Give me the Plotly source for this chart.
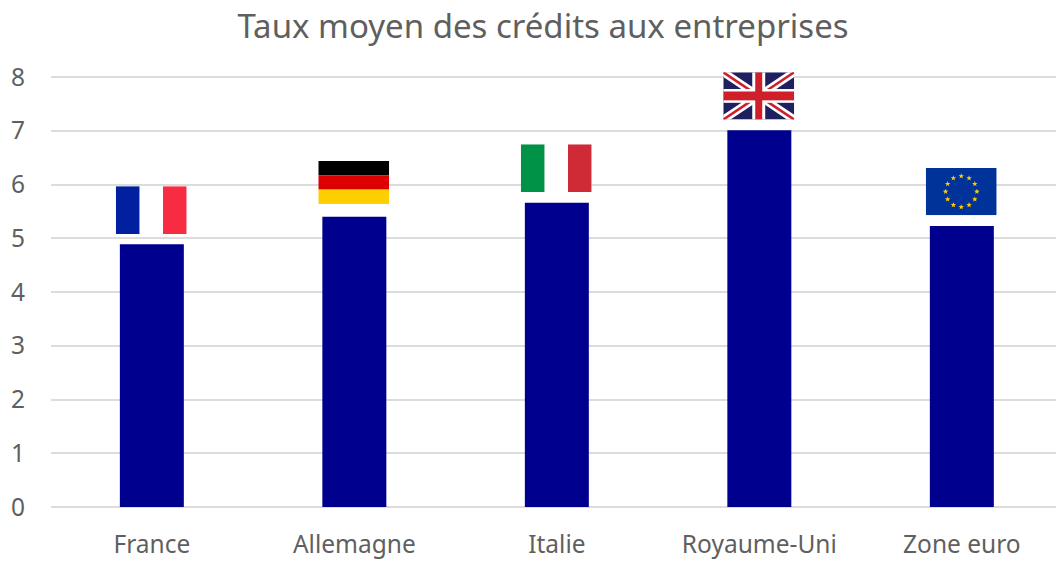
import base64
import math
import plotly.graph_objects as go

TITLE = "Taux moyen des crédits aux entreprises"
categories = ["France", "Allemagne", "Italie", "Royaume-Uni", "Zone euro"]
values = [4.89, 5.40, 5.66, 7.01, 5.23]
y_ticks = [0, 1, 2, 3, 4, 5, 6, 7, 8]

BAR = "#00008f"
GRID = "#dcdcdc"
TEXT = "#5f5f5f"
FONT = "Noto Sans"


def stars():
    out = ""
    for i in range(12):
        a = math.radians(i * 30)
        cx, cy = 35.5 + 15.7 * math.sin(a), 24 - 15.7 * math.cos(a)
        pts = []
        for k in range(10):
            r = 2.9 if k % 2 == 0 else 1.2
            b = math.radians(k * 36)
            pts.append(f"{cx + r * math.sin(b):.2f},{cy - r * math.cos(b):.2f}")
        out += f'<polygon points="{" ".join(pts)}" fill="#ffcc00"/>'
    return out


def svg(body):
    return (
        '<svg xmlns="http://www.w3.org/2000/svg" width="710" height="480" viewBox="0 0 71 48" '
        'preserveAspectRatio="none">' + body + "</svg>"
    )


flag_bodies = {
    "France": '<rect width="71" height="48" fill="#fff"/><rect width="23.7" height="48" fill="#00209f"/>'
              '<rect x="47.3" width="23.7" height="48" fill="#f72c43"/>',
    "Allemagne": '<rect width="71" height="16" fill="#000"/><rect y="16" width="71" height="16" fill="#dd0000"/>'
                 '<rect y="32" width="71" height="16" fill="#ffce00"/>',
    "Italie": '<rect width="71" height="48" fill="#fff"/><rect width="23.7" height="48" fill="#009246"/>'
              '<rect x="47.3" width="23.7" height="48" fill="#ce2b37"/>',
    "Royaume-Uni": '<rect width="71" height="48" fill="#1f2060"/>'
                   '<path d="M0 0L71 48M71 0L0 48" stroke="#fff" stroke-width="8"/>'
                   '<path d="M0 0L71 48M71 0L0 48" stroke="#cf1f2b" stroke-width="2.6"/>'
                   '<rect x="29" width="13" height="48" fill="#fff"/><rect y="17" width="71" height="14" fill="#fff"/>'
                   '<rect x="32" width="7" height="48" fill="#cf1f2b"/><rect y="19.5" width="71" height="9" fill="#cf1f2b"/>',
    "Zone euro": '<rect width="71" height="48" fill="#003399"/>' + stars(),
}
flag_heights = [0.89, 0.80, 0.89, 0.88, 0.88]
flag_gaps = [0.19, 0.24, 0.20, 0.20, 0.20]

fig = go.Figure(go.Bar(x=categories, y=values, marker_color=BAR, marker_line_width=0, width=0.316))

images = []
for i, (c, v) in enumerate(zip(categories, values)):
    images.append(dict(
        source="data:image/svg+xml;base64," + base64.b64encode(svg(flag_bodies[c]).encode()).decode(),
        xref="x", yref="y", x=i - 0.003, y=v + flag_gaps[i] + flag_heights[i],
        sizex=0.35, sizey=flag_heights[i], xanchor="center", yanchor="top",
        sizing="stretch", layer="above",
    ))

fig.update_layout(
    width=1056, height=561,
    margin=dict(l=51, r=0, t=61, b=54),
    paper_bgcolor="white", plot_bgcolor="white",
    showlegend=False,
    images=images,
    title=dict(text=TITLE, x=0.5142, xanchor="center", y=0.9537, yanchor="middle",
               font=dict(family=FONT, size=33, color=TEXT)),
    font=dict(family=FONT, color=TEXT),
    xaxis=dict(range=[-0.498, 4.465], showgrid=False, showline=False, zeroline=False, ticks="",
               tickfont=dict(size=24.5, color=TEXT), ticklabelstandoff=20),
    yaxis=dict(range=[0, 8.3], tickvals=y_ticks, showgrid=True, gridcolor=GRID, gridwidth=2,
               zeroline=True, zerolinecolor=GRID, zerolinewidth=2, showline=False, ticks="",
               tickfont=dict(size=24.5, color=TEXT), ticklabelstandoff=25),
)

fig.write_html("out.html", config={"displayModeBar": False},
               post_script="document.body.style.margin='0';")
